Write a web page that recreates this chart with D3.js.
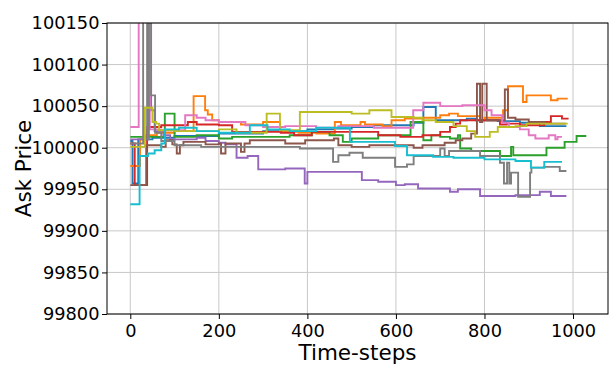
<!DOCTYPE html>
<html><head><meta charset="utf-8">
<script src="https://cdn.jsdelivr.net/npm/d3@7"></script>
<style>body{margin:0;background:#fff}svg{display:block}text{font-family:"DejaVu Sans",sans-serif}</style>
</head><body><svg id="c" width="612" height="366"></svg>
<script>
const xTicks = [0,200,400,600,800,1000];
const yTicks = [99800,99850,99900,99950,100000,100050,100100,100150];
const xLabel = "Time-steps";
const yLabel = "Ask Price";

// step series: [time-step, ask price]
const sBlue = [[0,100008],[5,99957],[18,100010],[50,100012],[100,100014],[200,100017],[300,100020],[400,100022],[460,100023],[500,100025],[550,100027],[640,100030],[662,100049],[690,100033],[740,100033],[760,100035],[780,100033],[830,100032],[880,100030],[925,100026],[985,100026]];
const sOrange = [[0,99978],[22,100010],[35,100015],[60,100018],[100,100020],[143,100062],[169,100045],[175,100040],[185,100033],[200,100031],[250,100028],[300,100031],[338,100019],[380,100018],[420,100017],[462,100031],[476,100027],[520,100031],[530,100028],[570,100026],[590,100033],[620,100035],[660,100036],[700,100039],[720,100041],[740,100038],[790,100033],[800,100036],[842,100045],[853,100074],[887,100055],[895,100063],[950,100057],[965,100059],[988,100059]];
const sGreen = [[0,100013],[78,100041],[100,100013],[150,100015],[200,100011],[230,100013],[340,100013],[360,100015],[410,100019],[450,100015],[480,100007],[500,100011],[560,100015],[633,100031],[662,100009],[680,100015],[700,100013],[722,100011],[740,100015],[745,99999],[770,99996],[835,99990],[860,100001],[865,99991],[940,100000],[981,100007],[1008,100014],[1030,100014]];
const sRed = [[0,100005],[10,99955],[38,100025],[70,100027],[130,100031],[150,100028],[200,100027],[230,100019],[340,100018],[370,100015],[410,100019],[500,100019],[560,100015],[610,100013],[660,100015],[700,100019],[722,100025],[735,100029],[745,100033],[790,100033],[835,100028],[850,100029],[880,100027],[935,100031],[950,100038],[975,100035],[990,100035]];
const sPurple = [[0,100010],[40,100082],[47,100045],[55,100020],[75,100015],[90,100010],[150,100012],[170,100008],[200,100006],[215,100004],[240,99988],[265,99990],[289,99974],[350,99975],[394,99957],[400,99971],[523,99961],[560,99959],[600,99955],[620,99956],[650,99951],[722,99947],[740,99950],[790,99942],[870,99943],[925,99947],[950,99942],[985,99942]];
const sBrown = [[0,99955],[36,100003],[70,100001],[80,100009],[95,100004],[105,99993],[112,100003],[120,100007],[150,100007],[170,100004],[200,100005],[205,99993],[215,100005],[250,99995],[258,100005],[270,100009],[330,100009],[350,100005],[380,100005],[395,100009],[440,100009],[460,100011],[470,100003],[500,100001],[540,100003],[620,100003],[640,100000],[660,100003],[710,100006],[735,100009],[750,100011],[770,100017],[783,100077],[790,100031],[795,100077],[805,100033],[846,100070],[853,100036],[870,100034],[900,100031],[935,100029],[983,100029]];
const sPink = [[0,100025],[19,100200],[44,100022],[70,100021],[124,100039],[150,100036],[170,100033],[200,100031],[260,100027],[300,100025],[350,100026],[420,100024],[470,100026],[550,100024],[639,100045],[662,100054],[700,100050],[750,100051],[800,100045],[816,100039],[840,100030],[855,100025],[880,100022],[900,100015],[915,100011],[945,100015],[960,100010],[965,100013],[975,100013]];
const sGray = [[0,100005],[29,100200],[38,100010],[42,100200],[47,100063],[56,100018],[70,100008],[100,100003],[160,100001],[383,99999],[458,99983],[470,99991],[495,99994],[525,99988],[598,99977],[625,99980],[640,99990],[700,99999],[710,99990],[720,99996],[790,99990],[835,99982],[844,99957],[851,99982],[856,99957],[860,99970],[876,99941],[903,99970],[906,99976],[935,99977],[970,99972],[985,99972]];
const sOlive = [[0,100001],[33,100048],[50,100031],[58,100029],[65,100021],[100,100020],[200,100022],[240,100018],[308,100041],[338,100021],[383,100043],[500,100041],[540,100045],[590,100037],[640,100036],[660,100033],[690,100031],[730,100026],[760,100020],[779,100013],[812,100019],[830,100025],[870,100026],[895,100029],[988,100029]];
const sCyan = [[0,99932],[21,99990],[40,99993],[55,99997],[70,100005],[78,100022],[110,100024],[150,100020],[200,100018],[270,100027],[310,100022],[360,100020],[420,100024],[496,100007],[598,100002],[625,99991],[684,99989],[730,99988],[800,99986],[870,99984],[905,99976],[935,99983],[975,99983]];

const seriesList = [sBlue,sOrange,sGreen,sRed,sPurple,sBrown,sPink,sGray,sOlive,sCyan];
const colors = ["#1f77b4","#ff7f0e","#2ca02c","#d62728","#9467bd","#8c564b","#e377c2","#7f7f7f","#bcbd22","#17becf"];

const svg = d3.select("#c");
const L=107,R=608,T=23,B=314;
const x = d3.scaleLinear().domain([-52.6,1079]).range([L,R]);
const y = d3.scaleLinear().domain([99800,100150]).range([B,T]);

// grid
const g = svg.append("g");
g.selectAll(".gx").data(xTicks).join("line").attr("x1",d=>x(d)).attr("x2",d=>x(d)).attr("y1",T).attr("y2",B).attr("stroke","#c8c8c8").attr("stroke-width",1);
g.selectAll(".gy").data(yTicks).join("line").attr("y1",d=>y(d)).attr("y2",d=>y(d)).attr("x1",L).attr("x2",R).attr("stroke","#c8c8c8").attr("stroke-width",1);

svg.append("clipPath").attr("id","clip").append("rect").attr("x",L).attr("y",T).attr("width",R-L).attr("height",B-T);

const line = d3.line().x(d=>x(d[0])).y(d=>y(d[1])).curve(d3.curveStepAfter);
const lg = svg.append("g").attr("clip-path","url(#clip)");
seriesList.forEach((s,i)=>{
  lg.append("path").attr("d",line(s)).attr("fill","none").attr("stroke",colors[i]).attr("stroke-width",1.9).attr("stroke-linejoin","miter");
});

// frame
svg.append("rect").attr("x",L).attr("y",T).attr("width",R-L).attr("height",B-T).attr("fill","none").attr("stroke","#000").attr("stroke-width",1);

const xa = svg.append("g").attr("transform",`translate(0,${B})`).call(d3.axisBottom(x).tickValues(xTicks).tickSize(5).tickPadding(5).tickFormat(d3.format("d")));
const ya = svg.append("g").attr("transform",`translate(${L},0)`).call(d3.axisLeft(y).tickValues(yTicks).tickSize(5).tickPadding(2.5).tickFormat(d3.format("d")));
[xa,ya].forEach(a=>{a.select(".domain").remove();a.selectAll("text").style("font-size","17.8px").style("font-family","'DejaVu Sans'").attr("fill","#000");a.selectAll("line").attr("stroke","#000");});

svg.append("text").attr("x",(L+R)/2).attr("y",360).attr("text-anchor","middle").style("font-size","21.5px").text(xLabel);
svg.append("text").attr("transform",`translate(31,${(T+B)/2}) rotate(-90)`).attr("text-anchor","middle").style("font-size","21.5px").text(yLabel);
</script></body></html>
